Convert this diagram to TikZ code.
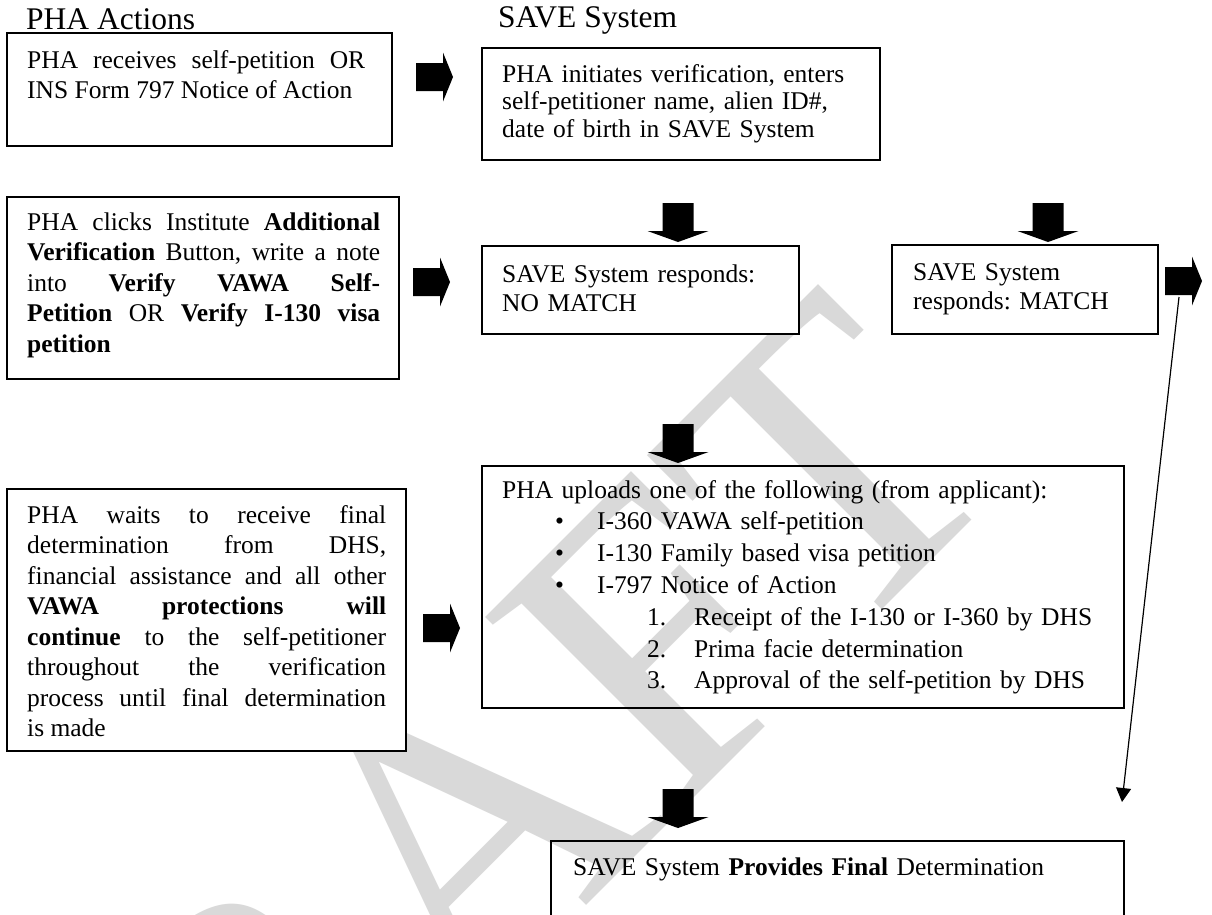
\documentclass[tikz,border=0pt]{standalone}
\usepackage{fontspec}
\setmainfont{Liberation Serif}
\usetikzlibrary{arrows.meta}
\hbadness=10000
\hfuzz=20pt
\hyphenpenalty=10000
\exhyphenpenalty=10000
\frenchspacing
\begin{document}
\begin{tikzpicture}[x=1pt,y=-1pt,
  box/.style={draw=black, line width=1.6pt, inner sep=0pt, anchor=north west},
  filledbox/.style={box, fill=white},
  body/.style={inner sep=0pt, anchor=base west, font={\fontsize{25.5pt}{30.5pt}\selectfont}},
  title/.style={inner sep=0pt, anchor=base west, font={\fontsize{31.5pt}{36pt}\selectfont}},
  watermark/.style={inner sep=0pt, anchor=base east, text=black!15, rotate=45, font={\fontsize{420pt}{420pt}\selectfont}},
  rarrowpic/.pic={\fill[black] (0,-14) -- (27,-14) -- (27,-24.5) -- (37,0) -- (27,24.5) -- (27,14) -- (0,14) -- cycle;},
  darrowpic/.pic={\fill[black] (-15.5,0) -- (15.5,0) -- (15.5,28) -- (30.5,28) -- (0,39) -- (-30.5,28) -- (-15.5,28) -- cycle;},
  thinarrow/.style={line width=1.2pt, -{Triangle[length=14pt,width=15pt]}}
]
\useasboundingbox (0,0) rectangle (1212,914);
\clip (0,0) rectangle (1212,914);
\fill[white] (0,0) rectangle (1212,914);

% watermark
\node[watermark] (wm) at (1018,474) {DRAFT};

% titles
\node[title] (h1) at (26,29) {PHA Actions};
\node[title] (h2) at (498,27) {SAVE System};

% boxes
\node[filledbox, minimum width=385pt, minimum height=113pt] (b1) at (6,32) {};
\node[filledbox, minimum width=392pt, minimum height=182pt] (b2) at (6,196) {};
\node[filledbox, minimum width=398pt, minimum height=112pt] (b3) at (481,47) {};
\node[filledbox, minimum width=317pt, minimum height=88pt] (b4) at (481,245) {};
\node[filledbox, minimum width=266pt, minimum height=89pt] (b5) at (891,244) {};
\node[box, minimum width=642pt, minimum height=242pt] (b6) at (481,465) {};
\node[filledbox, minimum width=399pt, minimum height=262pt] (b7) at (6,488) {};
\node[box, minimum width=573pt, minimum height=120pt] (b8) at (550,840) {};

% texts
\node[body, text width=338pt, align=justify] (t1) at (27,68) {PHA receives self-petition OR\linebreak INS Form 797 Notice of Action};
\node[body, text width=353pt, align=justify] (t2) at (27,230) {PHA clicks Institute \textbf{Additional}\linebreak
\textbf{Verification} Button, write a note\linebreak
into \textbf{Verify VAWA Self-}\linebreak
\textbf{Petition} OR \textbf{Verify I-130 visa}\linebreak
\textbf{petition}};
\node[body, text width=380pt, align=left, font={\fontsize{25.5pt}{27.5pt}\selectfont}] (t3) at (502,82) {PHA initiates verification, enters\\ self-petitioner name, alien ID\#,\\ date of birth in SAVE System};
\node[body, text width=290pt, align=left, font={\fontsize{25.5pt}{29pt}\selectfont}] (t4) at (502,282) {SAVE System responds:\\ NO MATCH};
\node[body, text width=240pt, align=left, font={\fontsize{25.5pt}{29pt}\selectfont}] (t5) at (913,280) {SAVE System\\ responds: MATCH};
\node[body, text width=620pt, align=left, font={\fontsize{25.5pt}{31.8pt}\selectfont}] (t6) at (502,498) {PHA uploads one of the following (from applicant):\\
\hspace*{53pt}\makebox[42pt][l]{\textbullet}I-360 VAWA self-petition\\
\hspace*{53pt}\makebox[42pt][l]{\textbullet}I-130 Family based visa petition\\
\hspace*{53pt}\makebox[42pt][l]{\textbullet}I-797 Notice of Action\\
\hspace*{145pt}\makebox[47pt][l]{1.}Receipt of the I-130 or I-360 by DHS\\
\hspace*{145pt}\makebox[47pt][l]{2.}Prima facie determination\\
\hspace*{145pt}\makebox[47pt][l]{3.}Approval of the self-petition by DHS};
\node[body, text width=359pt, align=justify] (t7) at (27,523) {PHA waits to receive final\linebreak
determination from DHS,\linebreak
financial assistance and all other\linebreak
\textbf{VAWA protections will}\linebreak
\textbf{continue} to the self-petitioner\linebreak
throughout the verification\linebreak
process until final determination\linebreak
is made};
\node[body, text width=540pt, align=left] (t8) at (573,875) {SAVE System \textbf{Provides Final} Determination};

% block arrows
\pic at (416,77) {rarrowpic};
\pic at (413,282) {rarrowpic};
\pic at (1165,281) {rarrowpic};
\pic at (423,628) {rarrowpic};
\pic at (678,203) {darrowpic};
\pic at (1048,203) {darrowpic};
\pic at (678,424) {darrowpic};
\pic at (678,789) {darrowpic};

% thin connector from MATCH arrow
\coordinate (mstart) at (1179,297);
\coordinate (mend) at (1122,802);
\draw[thinarrow] (mstart) -- (mend);
\end{tikzpicture}
\end{document}
